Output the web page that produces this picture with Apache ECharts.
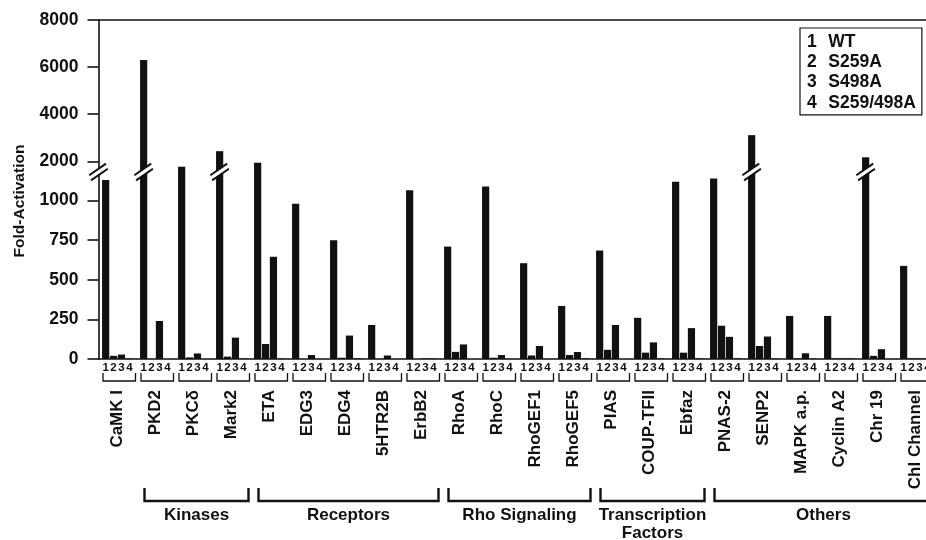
<!DOCTYPE html>
<html><head><meta charset="utf-8">
<script src="https://cdn.jsdelivr.net/npm/echarts@6/dist/echarts.min.js"></script>
<style>html,body{margin:0;padding:0;background:#fff}#c{width:926px;height:540px}</style>
</head><body><div id="c"></div>
<script>
// ---- data ----
const categories = ['CaMK I','PKD2','PKC\u03B4','Mark2','ETA','EDG3','EDG4','5HTR2B','ErbB2','RhoA','RhoC','RhoGEF1','RhoGEF5','PIAS','COUP-TFII','Ebfaz','PNAS-2','SENP2','MAPK a.p.','Cyclin A2','Chr 19','Chl Channel'];
const seriesNames = ['WT','S259A','S498A','S259/498A'];
const wt       = [1130, 6300, 1770, 2430, 1940, 980, 750, 215, 1065, 710, 1090, 605, 335, 685, 260, 1120, 1140, 3110, 272, 272, 2170, 588];
const s259a    = [20, 0, 10, 15, 95, 0, 8, 0, 0, 45, 8, 22, 25, 58, 40, 40, 210, 82, 4, 4, 20, 4];
const s498a    = [28, 240, 35, 135, 645, 25, 148, 22, 4, 92, 25, 82, 44, 215, 105, 195, 140, 142, 36, 4, 62, 4];
const s259498a = [3, 0, 0, 3, 3, 0, 5, 0, 3, 0, 0, 0, 4, 0, 4, 4, 4, 3, 3, 4, 0, 4];
const lowerTicks = [0, 250, 500, 750, 1000];
const upperTicks = [2000, 4000, 6000, 8000];
const groupNames = ['Kinases','Receptors','Rho Signaling','Transcription\nFactors','Others'];
const groupStart = [1, 4, 9, 13, 16];
const groupEnd   = [3, 8, 12, 15, 21];

// ---- styling / layout ----
const FONT = '"Liberation Sans", Arial, Helvetica, sans-serif';
const INK = '#111';
const LOWER_MAX = 1181, UPPER_MIN = 1546, UPPER_MAX = 8000;
const BAR_W = 7.2, BAR_GAP_PX = 0.7;
const BAR1_OFFSET = -(4 * BAR_W + 3 * BAR_GAP_PX) / 2 + BAR_W / 2;
const values = [wt, s259a, s498a, s259498a];
const breakIdx = wt.map((v, i) => v > 2000 ? i : -1).filter(i => i >= 0);

function breakShape(cx, cy) {
  const h = [8.4, -5.8], o = [0.9, 2.6];
  const a1 = [cx - o[0] - h[0], cy - o[1] - h[1]], b1 = [cx - o[0] + h[0], cy - o[1] + h[1]];
  const a2 = [cx + o[0] - h[0], cy + o[1] - h[1]], b2 = [cx + o[0] + h[0], cy + o[1] + h[1]];
  return {
    type: 'group',
    children: [
      { type: 'polygon', shape: { points: [a1, b1, b2, a2] }, style: { fill: '#fff', stroke: null } },
      { type: 'line', shape: { x1: a1[0], y1: a1[1], x2: b1[0], y2: b1[1] }, style: { stroke: INK, lineWidth: 2 } },
      { type: 'line', shape: { x1: a2[0], y1: a2[1], x2: b2[0], y2: b2[1] }, style: { stroke: INK, lineWidth: 2 } }
    ]
  };
}

const axisLineStyle = { color: INK, width: 1.6 };
const plainNum = v => String(v);
const series = [];
for (let k = 0; k < 4; k++) {
  series.push({
    type: 'bar', name: seriesNames[k], xAxisIndex: 0, yAxisIndex: 0, data: values[k],
    barWidth: BAR_W, barGap: (BAR_GAP_PX / BAR_W * 100) + '%', clip: true, silent: true,
    itemStyle: { color: INK }
  });
}
for (let k = 0; k < 4; k++) {
  series.push({
    type: 'bar', name: seriesNames[k], xAxisIndex: 1, yAxisIndex: 1, data: values[k],
    barWidth: BAR_W, barGap: (BAR_GAP_PX / BAR_W * 100) + '%', clip: true, silent: true,
    itemStyle: { color: INK },
    label: { show: true, position: 'bottom', distance: 3, formatter: String(k + 1),
      fontFamily: FONT, fontWeight: 'bold', fontSize: 11.5, color: INK }
  });
}
// brackets under each "1234"
series.push({
  type: 'custom', xAxisIndex: 1, yAxisIndex: 1, silent: true, z: 5,
  data: categories.map((c, i) => [i, 0]),
  renderItem: (params, api) => {
    const p = api.coord([api.value(0), 0]);
    const x1 = p[0] - 14.5, x2 = p[0] + 18, y = p[1];
    return { type: 'polyline', shape: { points: [[x1, y + 14], [x1, y + 22], [x2, y + 22], [x2, y + 14]] },
      style: { stroke: INK, fill: null, lineWidth: 1.3 } };
  }
});
// group brackets + names
series.push({
  type: 'custom', xAxisIndex: 1, yAxisIndex: 1, silent: true, z: 5,
  data: groupStart.map((s, i) => [s, 0, groupEnd[i], i]),
  encode: { x: 0, y: 1 },
  renderItem: (params, api) => {
    const p1 = api.coord([api.value(0), 0]);
    const p2 = api.coord([api.value(2), 0]);
    const x1 = p1[0] - 11, x2 = p2[0] + 17, y = p1[1];
    return { type: 'group', children: [
      { type: 'polyline', shape: { points: [[x1, y + 129], [x1, y + 142], [x2, y + 142], [x2, y + 129]] },
        style: { stroke: INK, fill: null, lineWidth: 2.4 } },
      { type: 'text', x: (x1 + x2) / 2, y: y + 148,
        style: { text: groupNames[api.value(3)], fill: INK, font: 'bold 17px ' + FONT,
          align: 'center', verticalAlign: 'top', textAlign: 'center', textVerticalAlign: 'top', lineHeight: 17.5 } }
    ] };
  }
});
// break marks on bars crossing the axis break
series.push({
  type: 'custom', xAxisIndex: 1, yAxisIndex: 1, silent: true, z: 10,
  data: breakIdx.map(i => [i, 0]),
  renderItem: (params, api) => {
    const x = api.coord([api.value(0), 0])[0] + BAR1_OFFSET;
    return breakShape(x, params.coordSys.y);
  }
});
// break mark on the y axis
series.push({
  type: 'custom', xAxisIndex: 1, yAxisIndex: 1, silent: true, z: 10,
  data: [[0, 0]],
  renderItem: (params, api) => breakShape(params.coordSys.x, params.coordSys.y)
});

const chart = echarts.init(document.getElementById('c'), null, { renderer: 'canvas' });
chart.setOption({
  animation: false,
  backgroundColor: '#fff',
  textStyle: { fontFamily: FONT },
  grid: [
    { left: 98.5, top: 20, width: 836, height: 152, outerBoundsMode: 'none', containLabel: false },
    { left: 98.5, top: 172, width: 836, height: 187, outerBoundsMode: 'none', containLabel: false }
  ],
  xAxis: [
    { type: 'category', gridIndex: 0, data: categories, position: 'top',
      axisLine: { show: true, lineStyle: axisLineStyle }, axisTick: { show: false }, axisLabel: { show: false }, splitLine: { show: false } },
    { type: 'category', gridIndex: 1, data: categories, position: 'bottom',
      axisLine: { show: true, lineStyle: axisLineStyle }, axisTick: { show: false }, splitLine: { show: false },
      axisLabel: { interval: 0, rotate: 90, margin: 31, fontFamily: FONT, fontWeight: 'bold', fontSize: 17, color: INK } }
  ],
  yAxis: [
    { type: 'value', gridIndex: 0, min: UPPER_MIN, max: UPPER_MAX, splitLine: { show: false },
      axisLine: { show: true, lineStyle: axisLineStyle },
      axisTick: { show: true, length: 11, customValues: upperTicks, lineStyle: axisLineStyle },
      axisLabel: { customValues: upperTicks, formatter: plainNum, margin: 20, fontFamily: FONT, fontWeight: 'bold', fontSize: 17.5, color: INK } },
    { type: 'value', gridIndex: 1, min: 0, max: LOWER_MAX, splitLine: { show: false },
      axisLine: { show: true, lineStyle: axisLineStyle },
      axisTick: { show: true, length: 11, customValues: lowerTicks, lineStyle: axisLineStyle },
      axisLabel: { customValues: lowerTicks, formatter: plainNum, margin: 20, fontFamily: FONT, fontWeight: 'bold', fontSize: 17.5, color: INK } }
  ],
  legend: {
    data: seriesNames, orient: 'vertical', left: 800, top: 28, icon: 'none', itemWidth: 0, itemHeight: 20, itemGap: 1.3,
    padding: [4, 6, 3, 2], borderColor: INK, borderWidth: 1.2, backgroundColor: '#fff', selectedMode: false,
    formatter: name => '{n|' + (seriesNames.indexOf(name) + 1) + '}{t|' + name + '}',
    textStyle: { rich: {
      n: { width: 21.3, fontSize: 17.5, fontWeight: 'bold', fontFamily: FONT, color: INK, lineHeight: 20 },
      t: { fontSize: 17.5, fontWeight: 'bold', fontFamily: FONT, color: INK, lineHeight: 20 }
    } }
  },
  graphic: [
    { type: 'text', x: 20, y: 201, rotation: Math.PI / 2, silent: true,
      style: { text: 'Fold-Activation', fill: INK, font: 'bold 15.5px ' + FONT,
        align: 'center', verticalAlign: 'middle', textAlign: 'center', textVerticalAlign: 'middle' } }
  ],
  series: series
});
</script>
</body></html>
